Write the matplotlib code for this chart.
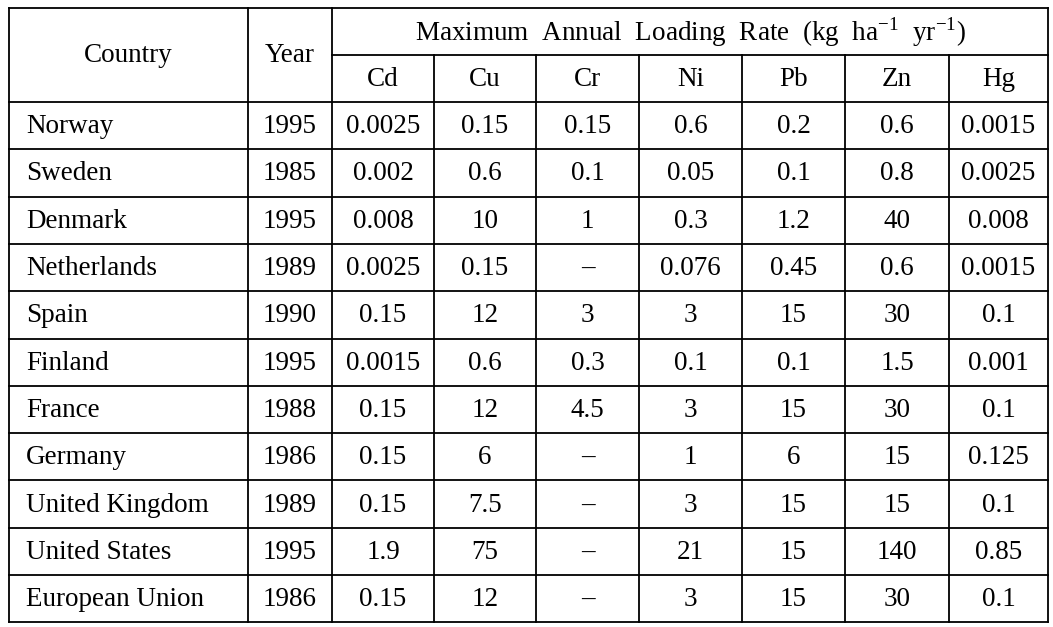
import matplotlib.pyplot as plt

plt.rcParams['font.family'] = ['Liberation Serif', 'DejaVu Serif']
plt.rcParams['mathtext.fontset'] = 'custom'
plt.rcParams['mathtext.rm'] = 'Liberation Serif'

countries = ['Norway', 'Sweden', 'Denmark', 'Netherlands', 'Spain', 'Finland',
             'France', 'Germany', 'United Kingdom', 'United States', 'European Union']
years = ['1995', '1985', '1995', '1989', '1990', '1995', '1988', '1986', '1989', '1995', '1986']
metals = ['Cd', 'Cu', 'Cr', 'Ni', 'Pb', 'Zn', 'Hg']
cd = ['0.0025', '0.002', '0.008', '0.0025', '0.15', '0.0015', '0.15', '0.15', '0.15', '1.9', '0.15']
cu = ['0.15', '0.6', '10', '0.15', '12', '0.6', '12', '6', '7.5', '75', '12']
cr = ['0.15', '0.1', '1', '–', '3', '0.3', '4.5', '–', '–', '–', '–']
ni = ['0.6', '0.05', '0.3', '0.076', '3', '0.1', '3', '1', '3', '21', '3']
pb = ['0.2', '0.1', '1.2', '0.45', '15', '0.1', '15', '6', '15', '15', '15']
zn = ['0.6', '0.8', '40', '0.6', '30', '1.5', '30', '15', '15', '140', '30']
hg = ['0.0015', '0.0025', '0.008', '0.0015', '0.1', '0.001', '0.1', '0.125', '0.1', '0.85', '0.1']
values = [cd, cu, cr, ni, pb, zn, hg]

header = r'Maximum  Annual  Loading  Rate  (kg  ha$^{\mathregular{-1}}$  yr$^{\mathregular{-1}}$)'

# layout in pixels
col_edges = [9, 248, 332, 434, 536, 639, 742, 845, 949, 1048]
top, mid, head_bot, row_h = 8, 55, 102, 47.3
n = len(countries)
bottom = head_bot + n * row_h

fig = plt.figure(figsize=(10.53, 6.27), dpi=100)
ax = fig.add_axes([0, 0, 1, 1])
ax.set_xlim(0, 1053)
ax.set_ylim(627, 0)
ax.axis('off')

lw = 1.3
k = dict(color='black', lw=lw, solid_capstyle='projecting')
# horizontal lines
ax.plot([col_edges[0], col_edges[-1]], [top, top], **k)
ax.plot([col_edges[2], col_edges[-1]], [mid, mid], **k)
for i in range(n + 1):
    y = head_bot + i * row_h
    ax.plot([col_edges[0], col_edges[-1]], [y, y], **k)
# vertical lines
for j, x in enumerate(col_edges):
    y0 = mid if 3 <= j <= len(col_edges) - 2 else top
    ax.plot([x, x], [y0, bottom], **k)

fs = 19.5
ax.text((col_edges[0] + col_edges[1]) / 2, (top + head_bot) / 2, 'Country',
        ha='center', va='center', fontsize=fs)
ax.text((col_edges[1] + col_edges[2]) / 2, (top + head_bot) / 2, 'Year',
        ha='center', va='center', fontsize=fs)
ax.text((col_edges[2] + col_edges[-1]) / 2, (top + mid) / 2 + 1, header,
        ha='center', va='center', fontsize=fs)
for j, m in enumerate(metals):
    ax.text((col_edges[j + 2] + col_edges[j + 3]) / 2, (mid + head_bot) / 2 + 1, m,
            ha='center', va='center', fontsize=fs)

for i in range(n):
    yc = head_bot + (i + 0.5) * row_h + 1
    ax.text(col_edges[0] + 17, yc, countries[i], ha='left', va='center', fontsize=fs)
    ax.text((col_edges[1] + col_edges[2]) / 2, yc, years[i], ha='center', va='center', fontsize=fs)
    for j, col in enumerate(values):
        ax.text((col_edges[j + 2] + col_edges[j + 3]) / 2, yc, col[i],
                ha='center', va='center', fontsize=fs)

fig.savefig('out.png', dpi=100, facecolor='white')
